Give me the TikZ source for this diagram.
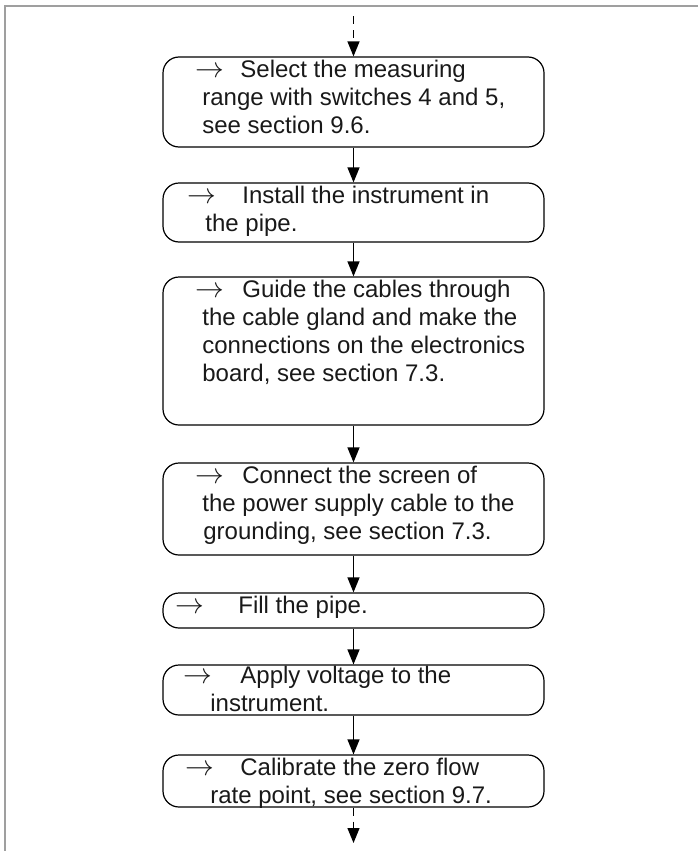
\documentclass[tikz,border=0pt]{standalone}
\usepackage{fontspec}
\setmainfont{Liberation Sans}
\usetikzlibrary{arrows.meta}

\newcommand{\steparrow}[1]{\makebox[#1][l]{\fontsize{13.5}{14}\selectfont$\rightarrow$}}

\begin{document}
\begin{tikzpicture}[x=0.5pt, y=-0.5pt,
	stepbox/.style={draw, rectangle, rounded corners=8pt, line width=0.6pt, inner sep=0pt, minimum width=190.5pt},
	steptext/.style={anchor=base west, inner sep=0pt, align=left, text=black!90, font=\fontsize{12}{14}\selectfont},
	flow/.style={line width=0.6pt, -{Triangle[width=6pt, length=7.5pt]}},
	frameline/.style={draw=gray!75, line width=1pt}]
	% Page and frame (only top and left border)
	\path[use as bounding box] (0, 0) rectangle (698, 851);
	\draw[frameline] (698, 6) -- (5, 6) -- (5, 851);
	
	% Free ends of the flow
	\coordinate (in) at (353.5, 16);
	\coordinate (out) at (353.5, 843);
	
	%% Boxes (texts are placed at the baseline of their last line)
	% Select range
	\node[stepbox, minimum height=45pt] (range) at (353.5, 102) {};
	\node[steptext] (rangetext) at (195, 133) {\steparrow{22.5pt}Select the measuring\\
		\hspace*{3.5pt}range with switches 4 and 5,\\
		\hspace*{3.5pt}see section 9.6.};
	
	% Install
	\node[stepbox, minimum height=29.5pt] (install) at (353.5, 212.5) {};
	\node[steptext] (installtext) at (187, 231) {\steparrow{27.5pt}Install the instrument in\\
		\hspace*{9pt}the pipe.};
	
	% Cables
	\node[stepbox, minimum height=74pt] (cables) at (353.5, 351) {};
	\node[steptext] (cablestext) at (195, 381) {\steparrow{23.5pt}Guide the cables through\\
		\hspace*{3.5pt}the cable gland and make the\\
		\hspace*{3.5pt}connections on the electronics\\
		\hspace*{3.5pt}board, see section 7.3.};
	
	% Screen
	\node[stepbox, minimum height=46pt] (screen) at (353.5, 509) {};
	\node[steptext] (screentext) at (195, 539) {\steparrow{23.5pt}Connect the screen of\\
		\hspace*{3.5pt}the power supply cable to the\\
		\hspace*{4pt}grounding, see section 7.3.};
	
	% Fill
	\node[stepbox, minimum height=17.5pt] (fill) at (353.5, 610.5) {};
	\node[steptext] (filltext) at (175, 613) {\steparrow{31.5pt}Fill the pipe.};
	
	% Voltage
	\node[stepbox, minimum height=25pt] (voltage) at (353.5, 690) {};
	\node[steptext] (voltagetext) at (183, 711) {\steparrow{28.5pt}Apply voltage to the\\
		\hspace*{13.5pt}instrument.};
	
	% Zero point
	\node[stepbox, minimum height=26pt] (zero) at (353.5, 781) {};
	\node[steptext] (zerotext) at (185, 803) {\steparrow{27.5pt}Calibrate the zero flow\\
		\hspace*{12.5pt}rate point, see section 9.7.};
	
	%% Connectors
	\draw[flow, dash pattern=on 4pt off 3pt] (in) -- (range);
	\draw[flow] (range) -- (install);
	\draw[flow] (install) -- (cables);
	\draw[flow] (cables) -- (screen);
	\draw[flow] (screen) -- (fill);
	\draw[flow] (fill) -- (voltage);
	\draw[flow] (voltage) -- (zero);
	\draw[flow, dash pattern=on 4pt off 3pt] (zero) -- (out);
	
\end{tikzpicture}
\end{document}
